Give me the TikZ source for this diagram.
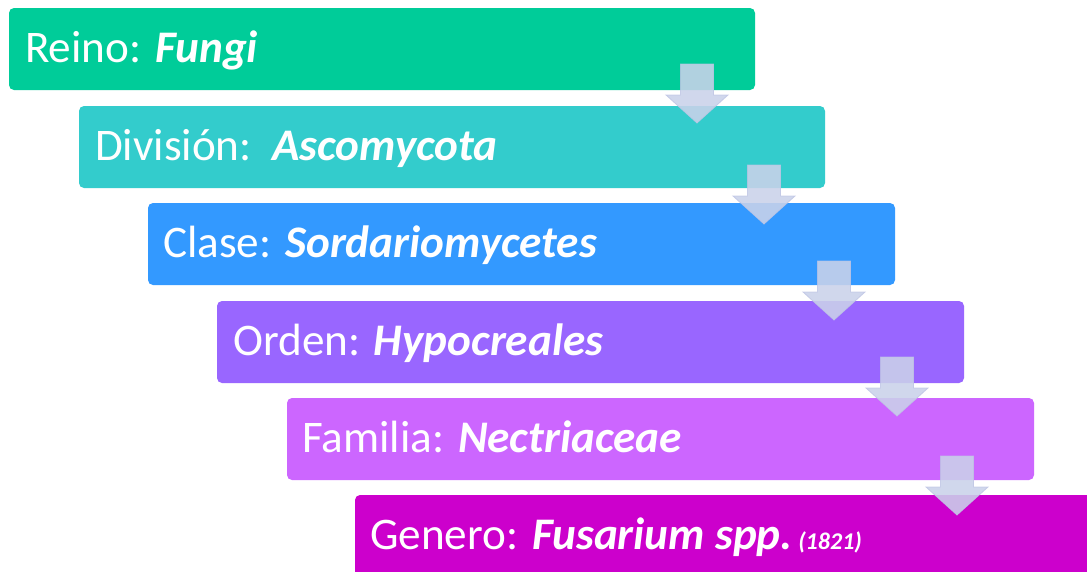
\documentclass[tikz,border=0pt]{standalone}
\usepackage{fontspec}
\setmainfont{Carlito}
\definecolor{c1}{RGB}{0,204,153}
\definecolor{c2}{RGB}{51,204,204}
\definecolor{c3}{RGB}{51,153,255}
\definecolor{c4}{RGB}{153,102,255}
\definecolor{c5}{RGB}{204,102,255}
\definecolor{c6}{RGB}{204,0,204}
\definecolor{arrfill}{RGB}{202,210,234}
\definecolor{arrline}{RGB}{190,196,228}
\tikzset{
  stepbox/.style={rounded corners=5pt},
  steplabel/.style={anchor=base west, inner sep=0pt, text=white, font=\fontsize{45.2}{50}\selectfont},
  downarrow/.style={fill=arrfill, draw=arrline, line width=0.8pt, fill opacity=0.88, draw opacity=0.8},
}
\newcommand{\mydownarrow}[2]{%
  \path[downarrow] (#1-16.5,#2) -- (#1+16.5,#2) -- (#1+16.5,#2+31) -- (#1+31,#2+31) -- (#1,#2+59) -- (#1-31,#2+31) -- (#1-16.5,#2+31) -- cycle;}
\begin{document}
\begin{tikzpicture}[x=1pt,y=-1pt]
\useasboundingbox (0,0) rectangle (1087,571);
\clip (0,0) rectangle (1087,571);
\fill[white] (0,0) rectangle (1087,571);
% boxes
\fill[c1,stepbox] (9,8) rectangle ++(746,82);
\fill[c2,stepbox] (79,106) rectangle ++(746,82);
\fill[c3,stepbox] (148,203) rectangle ++(747,82);
\fill[c4,stepbox] (217,301) rectangle ++(747,82);
\fill[c5,stepbox] (287,398) rectangle ++(747,82);
\fill[c6,stepbox] (355,495) rectangle ++(747,82);
% labels
\node[steplabel] (l1) at (25,62) {Reino: \textbf{\textit{Fungi}}};
\node[steplabel] (l2) at (95,160) {División:\ \ \textbf{\textit{Ascomycota}}};
\node[steplabel] (l3) at (163,257) {Clase: \textbf{\textit{Sordariomycetes}}};
\node[steplabel] (l4) at (233,355) {Orden: \textbf{\textit{Hypocreales}}};
\node[steplabel] (l5) at (302,452) {Familia: \textbf{\textit{Nectriaceae}}};
\node[steplabel] (l6) at (370,549) {Genero: \textbf{\textit{Fusarium spp.}}{\fontsize{24}{28}\selectfont\ \textbf{\textit{(1821)}}}};
% arrows
\mydownarrow{697}{64}
\mydownarrow{764}{165}
\mydownarrow{834}{261}
\mydownarrow{897}{357}
\mydownarrow{957}{456}
\end{tikzpicture}
\end{document}
